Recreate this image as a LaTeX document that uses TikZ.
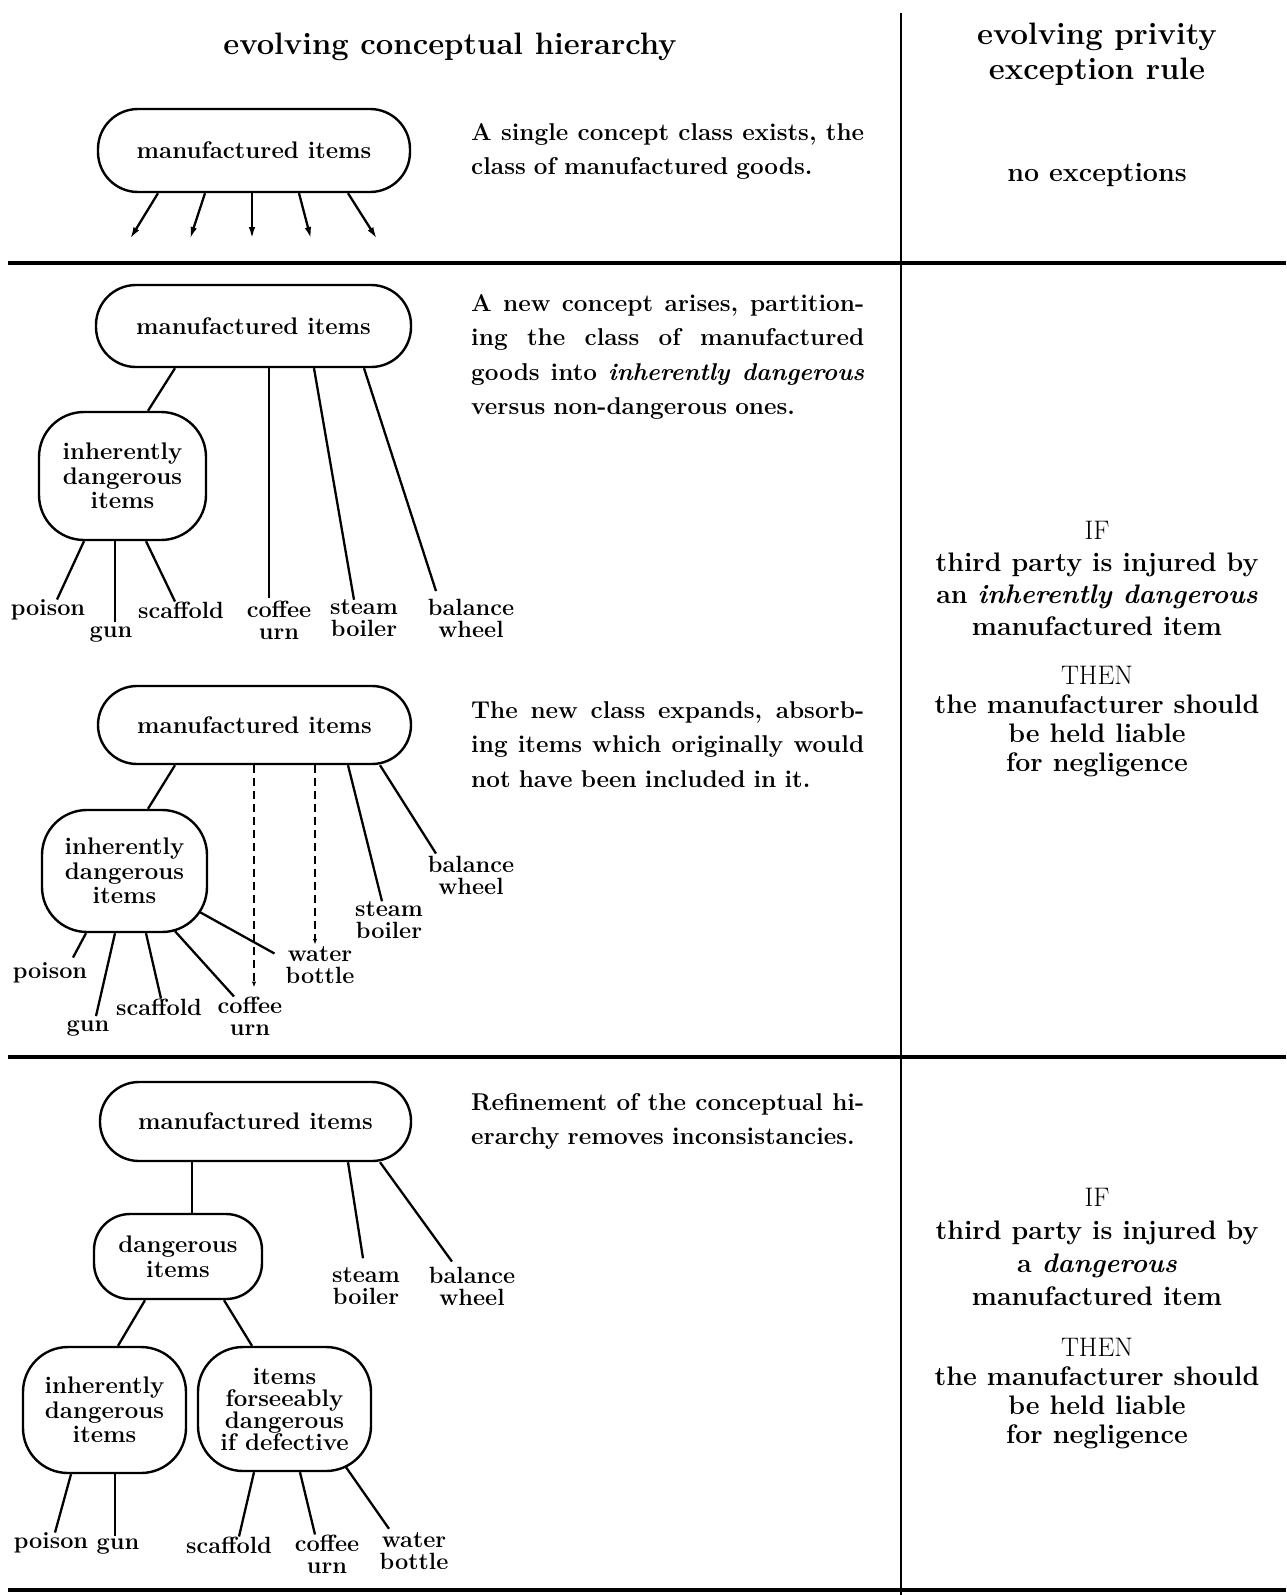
\documentclass[tikz,border=0pt]{standalone}
\usetikzlibrary{arrows.meta,calc}
\newlength\pw
\setlength\pw{393pt}
\newcommand\nodefont{\fontsize{24}{24.5}\selectfont\bfseries}
\newcommand\lblfont{\fontsize{23.5}{22}\selectfont\bfseries}
\newcommand\parafont{\fontsize{24.3}{34.5}\selectfont\bfseries}
\newcommand\rulefont{\fontsize{26.8}{32}\selectfont\bfseries}
\newcommand\thenfont{\fontsize{26.8}{29}\selectfont\bfseries}
\newcommand\headfont{\fontsize{31}{35}\selectfont\bfseries}
\newcommand\jline[1]{{\spaceskip=0pt\xspaceskip=0pt\makebox[\pw][s]{#1}}}
\begin{document}
\begin{tikzpicture}[x=1pt,y=-1pt,
  concept/.style={draw, line width=2.4pt, align=center, inner sep=0pt, font=\nodefont},
  lbl/.style={align=center, inner sep=0pt, font=\lblfont},
  para/.style={align=left, inner sep=0pt, text width=\pw, font=\parafont, anchor=north west},
  conn/.style={line width=2.3pt},
  dashline/.style={line width=2.1pt, dash pattern=on 8pt off 5pt, -{Latex[length=6pt,width=4.5pt]}},
  arr/.style={line width=2.3pt, -{Latex[length=12pt,width=6.5pt]}},
  sepline/.style={line width=3.2pt}]
\useasboundingbox (0,0) rectangle (1286,1595);

% separators
\coordinate (vt) at (901,13);
\coordinate (vb) at (901,1595);
\coordinate (h1l) at (8,263);  \coordinate (h1r) at (1286,263);
\coordinate (h2l) at (8,1057); \coordinate (h2r) at (1286,1057);
\coordinate (h3l) at (8,1590); \coordinate (h3r) at (1286,1590);
\draw[line width=2.5pt] (vt) -- (vb);
\draw[sepline] (h1l) -- (h1r);
\draw[sepline] (h2l) -- (h2r);
\draw[sepline] (h3l) -- (h3r);

% headers
\node[font=\headfont, inner sep=0pt] (title) at (450,47) {evolving conceptual hierarchy};
\node[font=\headfont, align=center, inner sep=0pt] (rhead) at (1097,54) {evolving privity\\exception rule};

% ---------- panel 1 ----------
\node[concept, minimum width=312pt, minimum height=83pt, rounded corners=40pt] (m1) at (254,150.5) {manufactured items};
\coordinate (a1) at (130,239);
\coordinate (a2) at (190,239);
\coordinate (a3) at (252,239);
\coordinate (a4) at (311,239);
\coordinate (a5) at (377,239);
\draw[arr] ($(m1.south)+(-96,0)$) -- (a1);
\draw[arr] ($(m1.south)+(-49,0)$) -- (a2);
\draw[arr] ($(m1.south)+(-2,0)$) -- (a3);
\draw[arr] ($(m1.south)+(45,0)$) -- (a4);
\draw[arr] ($(m1.south)+(94,0)$) -- (a5);
\node[para] (p1) at (471,123) {\jline{A single concept class exists, the}\\class of manufactured goods.};
\node[font=\rulefont, inner sep=0pt] (noex) at (1097,175) {no exceptions};

% ---------- panel 2 ----------
\node[concept, minimum width=315pt, minimum height=82pt, rounded corners=40pt] (m2) at (253.5,326) {manufactured items};
\node[concept, minimum width=167pt, minimum height=128pt, rounded corners=45pt] (id2) at (122.5,476) {inherently\\dangerous\\items};
\node[lbl] (poison2) at (48,610) {poison};
\node[lbl] (gun2) at (111,634) {gun};
\node[lbl] (scaffold2) at (181,610) {scaffold};
\node[lbl] (coffee2) at (279,620) {coffee\\urn};
\node[lbl] (steam2) at (364,618.5) {steam\\boiler};
\node[lbl] (balance2) at (471,618.5) {balance\\wheel};
\draw[conn] ($(m2.south)+(-78.5,0)$) -- ($(id2.north)+(25.5,0)$);
\draw[conn] ($(id2.south)+(-38.5,0)$) -- ($(poison2.north)+(9,0)$);
\draw[conn] ($(id2.south)+(-7.5,0)$) -- ($(gun2.north)+(4,-4)$);
\draw[conn] ($(id2.south)+(23.5,0)$) -- ($(scaffold2.north)+(-6,0)$);
\draw[conn] ($(m2.south)+(15.5,0)$) -- ($(coffee2.north)+(-10,-3)$);
\draw[conn] ($(m2.south)+(60.5,0)$) -- ($(steam2.north)+(-10,0)$);
\draw[conn] ($(m2.south)+(110.5,0)$) -- ($(balance2.north)+(-35,-8)$);
\node[para] (p2) at (471,294) {\jline{A new concept arises, partition-}\\\jline{ing the class of manufactured}\\\jline{goods into \textit{inherently dangerous}}\\versus non-dangerous ones.};

% ---------- panel 3 ----------
\node[concept, minimum width=313pt, minimum height=78pt, rounded corners=39pt] (m3) at (254.5,725) {manufactured items};
\node[concept, minimum width=165pt, minimum height=122pt, rounded corners=45pt] (id3) at (124.5,871) {inherently\\dangerous\\items};
\node[lbl] (balance3) at (471,875) {balance\\wheel};
\node[lbl] (steam3) at (389,920) {steam\\boiler};
\node[lbl] (water3) at (320,965.5) {water\\bottle};
\node[lbl] (poison3) at (50,973) {poison};
\node[lbl] (gun3) at (88,1028) {gun};
\node[lbl] (scaffold3) at (159,1007) {scaffold};
\node[lbl] (coffee3) at (250,1016) {coffee\\urn};
\draw[conn] ($(m3.south)+(-79.5,0)$) -- ($(id3.north)+(23.5,0)$);
\draw[dashline] ($(m3.south)+(-0.5,0)$) -- ($(coffee3.north)+(4,-9)$);
\draw[dashline] ($(m3.south)+(60.5,0)$) -- ($(water3.north)+(-5,-2)$);
\draw[conn] ($(m3.south)+(93.5,0)$) -- ($(steam3.north)+(-7,0)$);
\draw[conn] ($(m3.south)+(125.5,0)$) -- ($(balance3.north)+(-35,-2)$);
\draw[conn] ($(id3.south)+(-38.5,0)$) -- ($(poison3.north)+(23,-5)$);
\draw[conn] ($(id3.south)+(-9.5,0)$) -- ($(gun3.north)+(8,-4)$);
\draw[conn] ($(id3.south)+(21.5,0)$) -- ($(scaffold3.north)+(2,0)$);
\draw[conn] ($(id3.south)+(50.5,-2)$) -- ($(coffee3.north)+(-16,0)$);
\draw[conn] ($(id3.south)+(75.5,-21)$) -- ($(water3.west)+(-11,-12)$);
\node[para] (p3) at (471,701) {\jline{The new class expands, absorb-}\\\jline{ing items which originally would}\\not have been included in it.};

% rule 1
\node[font=\rulefont, align=center, inner sep=0pt] (if1) at (1097,578) {{\mdseries IF}\\third party is injured by\\an \textit{inherently dangerous}\\manufactured item};
\node[font=\thenfont, align=center, inner sep=0pt] (then1) at (1097,721.5) {{\mdseries THEN}\\the manufacturer should\\be held liable\\for negligence};

% ---------- panel 4 ----------
\node[concept, minimum width=311pt, minimum height=79pt, rounded corners=39pt] (m4) at (255.5,1121.5) {manufactured items};
\node[concept, minimum width=168pt, minimum height=85pt, rounded corners=36pt] (d4) at (178,1256.5) {dangerous\\items};
\node[concept, minimum width=163pt, minimum height=126pt, rounded corners=45pt] (id4) at (104.5,1410) {inherently\\dangerous\\items};
\node[concept, minimum width=173pt, minimum height=124pt, rounded corners=45pt, font=\fontsize{24}{22}\selectfont\bfseries] (ifd4) at (284.5,1409) {items\\forseeably\\dangerous\\if defective};
\node[lbl] (steam4) at (366,1286) {steam\\boiler};
\node[lbl] (balance4) at (472,1286) {balance\\wheel};
\node[lbl] (poison4) at (51,1543) {poison};
\node[lbl] (gun4) at (118,1546) {gun};
\node[lbl] (scaffold4) at (229,1545) {scaffold};
\node[lbl] (coffee4) at (327,1554) {coffee\\urn};
\node[lbl] (water4) at (414,1551.5) {water\\bottle};
\draw[conn] ($(m4.south)+(-63.5,0)$) -- ($(d4.north)+(14,0)$);
\draw[conn] ($(m4.south)+(92.5,0)$) -- ($(steam4.north)+(-3,-9)$);
\draw[conn] ($(m4.south)+(124.5,0)$) -- ($(balance4.north)+(-20,-5)$);
\draw[conn] ($(d4.south)+(-33,0)$) -- ($(id4.north)+(13.5,0)$);
\draw[conn] ($(d4.south)+(46,0)$) -- ($(ifd4.north)+(-32.5,0)$);
\draw[conn] ($(id4.south)+(-33.5,0)$) -- ($(poison4.north)+(4,0)$);
\draw[conn] ($(id4.south)+(10.5,0)$) -- ($(gun4.north)+(-3,-2)$);
\draw[conn] ($(ifd4.south)+(-30.5,0)$) -- ($(scaffold4.north)+(10,0)$);
\draw[conn] ($(ifd4.south)+(15.5,0)$) -- ($(coffee4.north)+(-12,0)$);
\draw[conn] ($(ifd4.south)+(61.5,-5)$) -- ($(water4.north)+(-25,-4)$);
\node[para] (p4) at (471,1093) {\jline{Refinement of the conceptual hi-}\\erarchy removes inconsistancies.};

% rule 2
\node[font=\fontsize{26.8}{33}\selectfont\bfseries, align=center, inner sep=0pt] (if2) at (1097,1247) {{\mdseries IF}\\third party is injured by\\a \textit{dangerous}\\manufactured item};
\node[font=\thenfont, align=center, inner sep=0pt] (then2) at (1097,1393.5) {{\mdseries THEN}\\the manufacturer should\\be held liable\\for negligence};
\end{tikzpicture}
\end{document}
